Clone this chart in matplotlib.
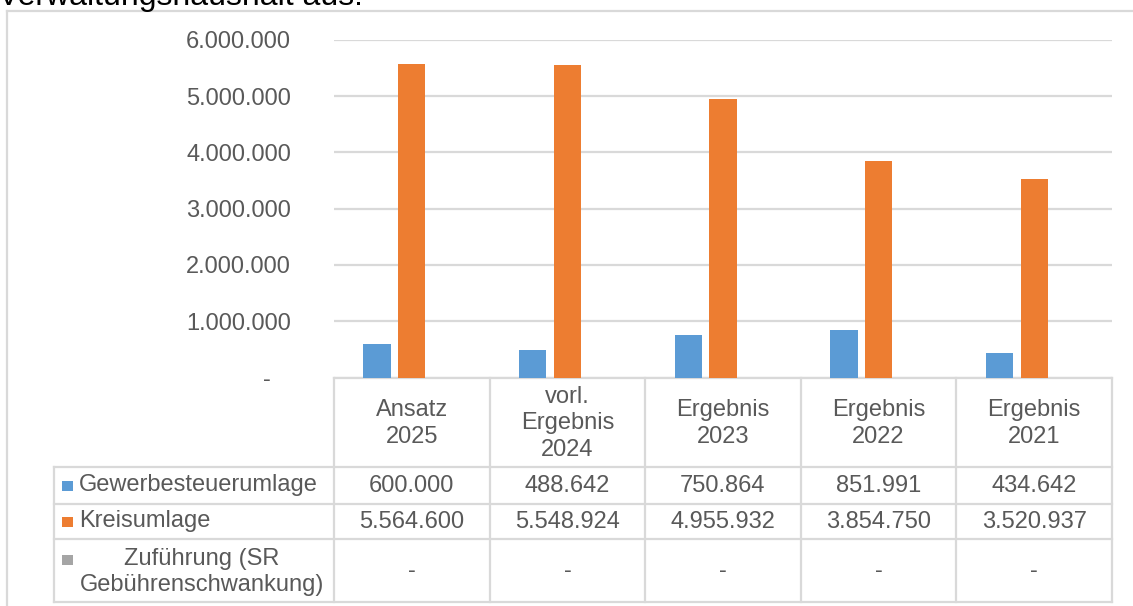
import numpy as np
import matplotlib
matplotlib.use("Agg")
import matplotlib.pyplot as plt

plt.rcParams["font.family"] = ["Liberation Sans", "DejaVu Sans"]

# Data
categories = ["Ansatz\n2025", "vorl.\nErgebnis\n2024", "Ergebnis\n2023", "Ergebnis\n2022", "Ergebnis\n2021"]
series_names = ["Gewerbesteuerumlage", "Kreisumlage", "Zuführung (SR\nGebührenschwankung)"]
gewerbesteuerumlage = [600000, 488642, 750864, 851991, 434642]
kreisumlage = [5564600, 5548924, 4955932, 3854750, 3520937]
zufuehrung = [0, 0, 0, 0, 0]
y_ticks = [0, 1000000, 2000000, 3000000, 4000000, 5000000, 6000000]

series_values = [gewerbesteuerumlage, kreisumlage, zufuehrung]
colors = ["#5B9BD5", "#ED7D31", "#A5A5A5"]
text_color = "#595959"
line_color = "#D9D9D9"
fs = 17

W, H = 1133, 606
fig = plt.figure(figsize=(W / 100, H / 100), dpi=100)


def fmt(v):
    return "-" if v == 0 else f"{v:,}".replace(",", ".")


# Bar chart area
y0_px, y6_px = 377.5, 40
left_px, right_px = 334, 1112
ax = fig.add_axes([left_px / W, 1 - y0_px / H, (right_px - left_px) / W, (y0_px - y6_px) / H])
ax.set_facecolor("none")
x = np.arange(len(categories))
bw = 0.176
offsets = [-0.223, 0.0, 0.223]
for vals, off, col in zip(series_values, offsets, colors):
    ax.bar(x + off, vals, width=bw, color=col, zorder=3)
ax.set_xlim(-0.5, len(categories) - 0.5)
ax.set_ylim(0, 6000000)
ax.set_yticks(y_ticks)
ax.set_yticklabels([fmt(v) if v else "-   " for v in y_ticks], color=text_color, fontsize=fs)
ax.tick_params(axis="y", length=0, pad=31)
ax.set_xticks([])
ax.yaxis.grid(True, color=line_color, lw=1.6, zorder=0)
for s in ax.spines.values():
    s.set_visible(False)

# Overlay in pixel coordinates for the frame and the data table
tab = fig.add_axes([0, 0, 1, 1], zorder=-1)
tab.set_xlim(0, W)
tab.set_ylim(H, 0)
tab.axis("off")

# chart frame (left and top edges)
tab.plot([7, 7], [11, H], color=line_color, lw=1.6)
tab.plot([7, W], [11, 11], color=line_color, lw=1.6)

# heading text partly above the frame
tab.text(-2, 4.5, "Verwaltungshaushalt aus.", fontsize=23, color="black", ha="left", va="baseline")

# column edges from the bar axis scale
fig.canvas.draw()
edges = [ax.transData.transform((e, 0))[0] for e in np.arange(len(categories) + 1) - 0.5]
centers = [(a + b) / 2 for a, b in zip(edges[:-1], edges[1:])]

row_tops = [y0_px, 467, 504, 539, 602]
table_left = 54

# horizontal lines
tab.plot([edges[0], edges[-1]], [row_tops[0], row_tops[0]], color=line_color, lw=1.6)
for y in row_tops[1:]:
    tab.plot([table_left, edges[-1]], [y, y], color=line_color, lw=1.6)
# vertical lines
for e in edges:
    tab.plot([e, e], [row_tops[0], row_tops[-1]], color=line_color, lw=1.6)
tab.plot([table_left, table_left], [row_tops[1], row_tops[-1]], color=line_color, lw=1.6)

# header
hy = (row_tops[0] + row_tops[1]) / 2
for cx, lab in zip(centers, categories):
    tab.text(cx, hy + 1, lab, ha="center", va="center", fontsize=fs, color=text_color, linespacing=1.27)

# data rows
for i, (name, vals, col) in enumerate(zip(series_names, series_values, colors)):
    top, bot = row_tops[i + 1], row_tops[i + 2]
    cy = (top + bot) / 2
    if i < 2:
        tab.add_patch(plt.Rectangle((62, cy - 5), 10.5, 10, color=col, lw=0))
        tab.text(79, cy, name, ha="left", va="center", fontsize=fs, color=text_color)
    else:
        tab.add_patch(plt.Rectangle((62, cy - 16), 10.5, 10, color=col, lw=0))
        tab.text(202, cy + 1.5, name, ha="center", va="center", fontsize=fs, color=text_color,
                 multialignment="center", linespacing=1.27)
    for cx, v in zip(centers, vals):
        tab.text(cx, cy, fmt(v), ha="center", va="center", fontsize=fs, color=text_color)

fig.savefig("out.png", dpi=100, facecolor="white")
